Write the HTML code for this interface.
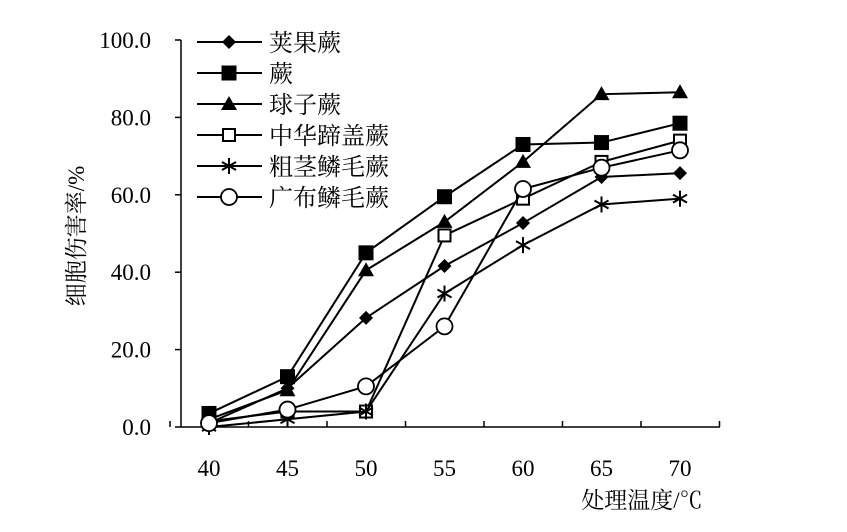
<!DOCTYPE html>
<html><head><meta charset="utf-8"><style>body{margin:0;background:#fff}svg text{font-family:"Liberation Serif","Noto Serif CJK SC",serif}</style></head>
<body>
<svg width="847" height="527">
<g id="axes"></g><g id="series"></g><g id="legend"></g>
<text transform="translate(84,236) rotate(-90)" text-anchor="middle" font-size="23" fill="#000">细胞伤害率/%</text>
<text x="642" y="508" text-anchor="middle" font-size="23">处理温度/℃</text>
</svg>
<script>
const categories=[40,45,50,55,60,65,70];
const names=["荚果蕨","蕨","球子蕨","中华蹄盖蕨","粗茎鳞毛蕨","广布鳞毛蕨"];
const s1=[1,10,28.2,41.6,52.7,64.6,65.6];
const s2=[3.5,13,45,59.5,73,73.5,78.5];
const s3=[2,9.5,40.5,53,68.5,86,86.5];
const s4=[1.5,4,4,49.5,59,68.5,74];
const s5=[0,2,4,34.5,47,57.5,59];
const s6=[1,4.5,10.5,26,61.5,67,71.5];
const yTicks=["0.0","20.0","40.0","60.0","80.0","100.0"];
const series=[s1,s2,s3,s4,s5,s6];
const markers=["diamond","square","triangle","osquare","star","circle"];
const NS="http://www.w3.org/2000/svg";
const X=i=>209+i*78.5, Y=v=>427-v*3.87;
function mk(tag,at,p){const e=document.createElementNS(NS,tag);for(const k in at)e.setAttribute(k,at[k]);p.appendChild(e);return e;}
const ax=document.getElementById('axes');
let l=mk('line',{x1:181,y1:40,x2:181,y2:427,stroke:'#000','stroke-width':1.5},ax);

l=mk('line',{x1:181,y1:427,x2:720,y2:427,stroke:'#000','stroke-width':1.5},ax);

yTicks.forEach((t,i)=>{const v=parseFloat(t);
 mk('line',{x1:175,y1:Y(v),x2:181,y2:Y(v),stroke:'#000','stroke-width':1.5},ax);
 const tx=mk('text',{x:151,y:Y(v)+8,'text-anchor':'end','font-size':23},ax);tx.textContent=t;
 });
for(let i=0;i<=categories.length;i++){mk('line',{x1:X(i)-39,y1:421,x2:X(i)-39,y2:427,stroke:'#000','stroke-width':1.5},ax);}
categories.forEach((c,i)=>{const tx=mk('text',{x:X(i),y:476,'text-anchor':'middle','font-size':23},ax);tx.textContent=c;
 });
function marker(type,x,y,g){
 if(type==='diamond')mk('polygon',{points:`${x},${y-7} ${x+7},${y} ${x},${y+7} ${x-7},${y}`,fill:'#000'},g);
 else if(type==='square')mk('rect',{x:x-7.5,y:y-7.5,width:15,height:15,fill:'#000'},g);
 else if(type==='triangle')mk('polygon',{points:`${x},${y-8} ${x+8},${y+6} ${x-8},${y+6}`,fill:'#000'},g);
 else if(type==='osquare')mk('rect',{x:x-6,y:y-6,width:12,height:12,fill:'#fff',stroke:'#000','stroke-width':2},g);
 else if(type==='star'){[[0,-8,0,8],[-7,-4,7,4],[-7,4,7,-4]].forEach(d=>mk('line',{x1:x+d[0],y1:y+d[1],x2:x+d[2],y2:y+d[3],stroke:'#000','stroke-width':2},g));}
 else mk('circle',{cx:x,cy:y,r:8,fill:'#fff',stroke:'#000','stroke-width':1.8},g);
}
const sg=document.getElementById('series');
series.forEach((s,k)=>{const g=mk('g',{},sg);
 
 mk('polyline',{points:s.map((v,i)=>X(i)+','+Y(v)).join(' '),fill:'none',stroke:'#000','stroke-width':2},g);
 s.forEach((v,i)=>marker(markers[k],X(i),Y(v),g));});
const lg=document.getElementById('legend');
names.forEach((n,k)=>{const y=42+k*31;const g=mk('g',{},lg);
 
 mk('line',{x1:197,y1:y,x2:262,y2:y,stroke:'#000','stroke-width':2},g);
 marker(markers[k],229,y,g);
 const t=mk('text',{x:269,y:y+9,'font-size':24},g);t.textContent=n;});
</script>
</body></html>
